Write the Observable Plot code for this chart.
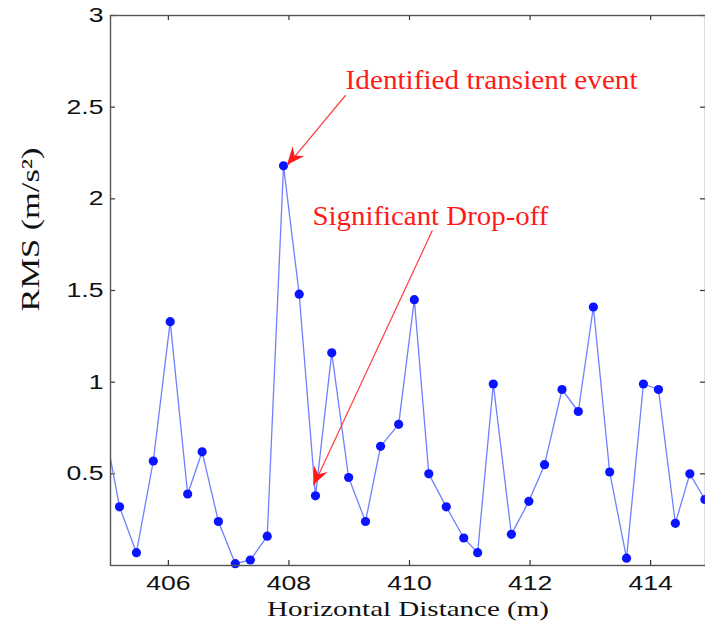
<!DOCTYPE html>
<html><head><meta charset="utf-8">
<script src="https://cdn.jsdelivr.net/npm/d3@7"></script>
<script src="https://cdn.jsdelivr.net/npm/@observablehq/plot@0.6"></script>
<style>html,body{margin:0;padding:0;background:#fff}svg{display:block}</style>
</head><body><div id="chart"></div>
<script>
// ---- data ----
const distance = [404.92, 405.19, 405.47, 405.75, 406.03, 406.32, 406.56, 406.83, 407.11, 407.36,
  407.64, 407.91, 408.17, 408.44, 408.71, 408.99, 409.27, 409.52, 409.82, 410.08,
  410.32, 410.61, 410.90, 411.13, 411.39, 411.69, 411.98, 412.24, 412.53, 412.80,
  413.05, 413.32, 413.60, 413.88, 414.13, 414.41, 414.65, 414.90];
const rms = [0.79, 0.32, 0.07, 0.57, 1.33, 0.39, 0.62, 0.24, 0.01, 0.03,
  0.16, 2.18, 1.48, 0.38, 1.16, 0.48, 0.24, 0.65, 0.77, 1.45,
  0.50, 0.32, 0.15, 0.07, 0.99, 0.17, 0.35, 0.55, 0.96, 0.84,
  1.41, 0.51, 0.04, 0.99, 0.96, 0.23, 0.50, 0.36];
const xTicks = [406, 408, 410, 412, 414];
const yTicks = [0.5, 1, 1.5, 2, 2.5, 3];
const xLabel = "Horizontal Distance (m)";
const yLabel = "RMS (m/s²)";
const annotationLabels = ["Identified transient event", "Significant Drop-off"];
const annotationTextX = [408.94, 408.39];
const annotationTextY = [2.60, 1.855];
const arrowFromX = [408.94, 410.38];
const arrowFromY = [2.565, 1.828];
const arrowToX = [407.975, 408.41];
const arrowToY = [2.182, 0.436];

// ---- layout ----
const W = 705, H = 633;
const mTop = 15, mRight = 0, mBottom = 68, mLeft = 110;
const xDomain = [405.04, 414.91];
const plotW = W - mLeft - mRight, plotH = H - mTop - mBottom;
const tickLen = 5;

const points = distance.map((d, i) => ({x: d, y: rms[i]}));
const visible = points.filter(p => p.x >= xDomain[0] && p.x <= xDomain[1]);
const annotations = annotationLabels.map((t, i) => ({
  label: t, tx: annotationTextX[i], ty: annotationTextY[i],
  x1: arrowFromX[i], y1: arrowFromY[i], x2: arrowToX[i], y2: arrowToY[i]
}));
const red = "#ff1a1a";
const serif = "'Liberation Serif', 'Times New Roman', serif";
const sans = "'Liberation Sans', Arial, sans-serif";
const fmt = d => String(d);

const plot = Plot.plot({
  width: W, height: H,
  marginTop: mTop, marginRight: mRight, marginBottom: mBottom, marginLeft: mLeft,
  x: {domain: xDomain, label: null, axis: null},
  y: {domain: [0, 3], label: null, axis: null},
  style: {fontFamily: sans, fontSize: "20px", background: "#fff", color: "#111", overflow: "visible"},
  marks: [
    Plot.axisX(xTicks, {tickSize: 0, tickPadding: 10, fontSize: 20, label: null, tickFormat: fmt}),
    Plot.axisY(yTicks, {tickSize: 0, tickPadding: 7, fontSize: 20, label: null, tickFormat: fmt}),
    Plot.tickX(xTicks, {x: d => d, insetTop: plotH - tickLen, stroke: "#333", strokeWidth: 1.2}),
    Plot.tickX(xTicks, {x: d => d, insetBottom: plotH - tickLen, stroke: "#333", strokeWidth: 1.2}),
    Plot.tickY(yTicks, {y: d => d, insetRight: plotW - tickLen, stroke: "#333", strokeWidth: 1.2}),
    Plot.tickY(yTicks, {y: d => d, insetLeft: plotW - tickLen, stroke: "#333", strokeWidth: 1.2}),
    Plot.line(points, {x: "x", y: "y", stroke: "#6f80ff", strokeWidth: 1.3, clip: true}),
    Plot.dot(visible, {x: "x", y: "y", r: 4.6, fill: "#0a14ff", stroke: "none"}),
    Plot.link(annotations, {x1: "x1", y1: "y1", x2: "x2", y2: "y2", stroke: "#ff4040", strokeWidth: 1.2}),
    Plot.text(annotations, {x: "tx", y: "ty", text: "label", textAnchor: "start", lineAnchor: "bottom",
      fill: red, fontSize: 27, fontFamily: serif}),
    Plot.text([xLabel], {text: d => d, frameAnchor: "bottom", dy: 50, lineAnchor: "bottom",
      fill: "#111", fontSize: 21, fontFamily: serif}),
    Plot.text([yLabel], {text: d => d, frameAnchor: "left", dx: -80, dy: 21, rotate: -90, lineAnchor: "middle",
      fill: "#111", fontSize: 25, fontFamily: serif}),
    Plot.frame({stroke: "#555", strokeWidth: 1.4})
  ]
});
document.getElementById("chart").append(plot);

// ---- arrowheads (filled), positioned through Plot's scales ----
const sx = plot.scale("x"), sy = plot.scale("y");
const svg = d3.select(plot);
for (const a of annotations) {
  const x1 = sx.apply(a.x1), y1 = sy.apply(a.y1), x2 = sx.apply(a.x2), y2 = sy.apply(a.y2);
  const ang = Math.atan2(y2 - y1, x2 - x1);
  const ux = Math.cos(ang), uy = Math.sin(ang), nx = -uy, ny = ux;
  const P = (l, w) => [x2 - l * ux + w * nx, y2 - l * uy + w * ny];
  const pts = [P(0, 0), P(18, 7.5), P(12, 0), P(18, -7.5)];
  svg.append("path").attr("d", "M" + pts.map(p => p.join(",")).join("L") + "Z").attr("fill", red);
}

// ---- fonts and widened glyphs to match the reference's lettering ----
const ctx = document.createElement("canvas").getContext("2d");
function natural(str, family, size) { ctx.font = `${size}px ${family}`; return ctx.measureText(str).width; }
function targetFor(s) {
  if (s.startsWith("Identified")) return 292;
  if (s.startsWith("Significant")) return 236;
  if (s.startsWith("Horizontal")) return 282;
  if (s.startsWith("RMS")) return 164;
  return null;
}
svg.selectAll("text").each(function() {
  const s = this.textContent.trim();
  let size = parseFloat(getComputedStyle(this).fontSize);
  const tgt = targetFor(s);
  if (tgt !== null || size > 20.5) this.style.setProperty("font-family", serif, "important");
  const cs = getComputedStyle(this);
  size = parseFloat(cs.fontSize);
  const nat = natural(s, cs.fontFamily, size);
  const target = tgt !== null ? tgt : nat * 1.33;
  this.setAttribute("textLength", target.toFixed(1));
  this.setAttribute("lengthAdjust", "spacingAndGlyphs");
});
</script>
</body></html>
